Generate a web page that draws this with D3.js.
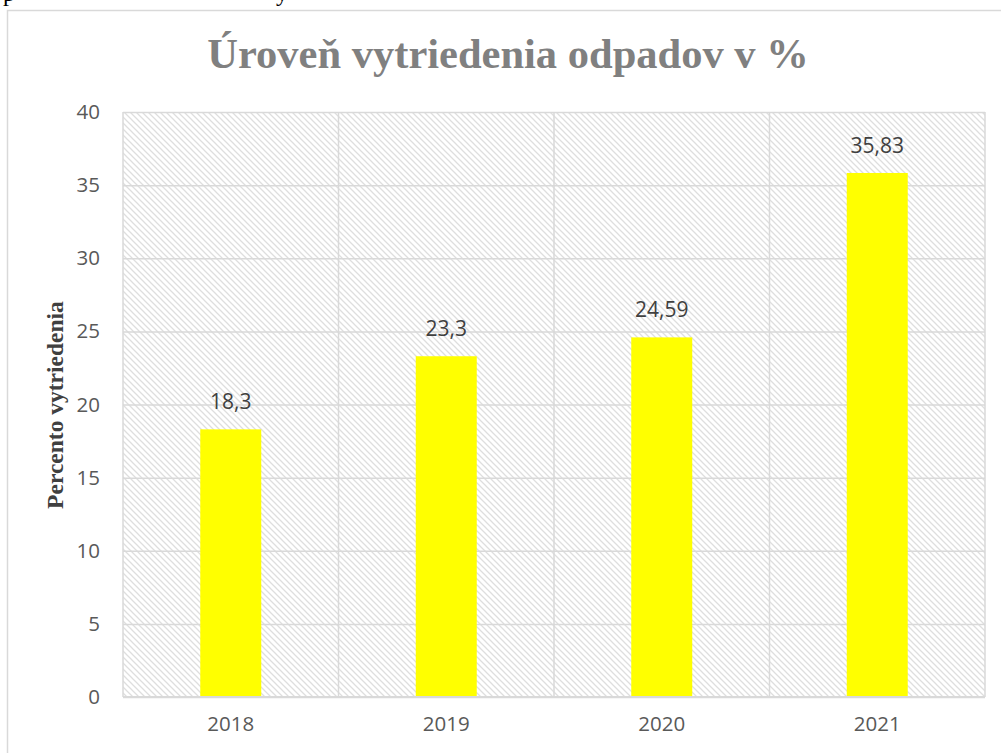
<!DOCTYPE html>
<html>
<head>
<meta charset="utf-8">
<script src="https://cdn.jsdelivr.net/npm/d3@7"></script>
<style>
  html, body { margin: 0; padding: 0; background: #fff; overflow: hidden; }
</style>
</head>
<body>
<div id="chart"></div>
<script>
// Data
const years  = ["2018", "2019", "2020", "2021"];
const values = [18.3, 23.3, 24.59, 35.83];
const labels = ["18,3", "23,3", "24,59", "35,83"];
const yTicks = [0, 5, 10, 15, 20, 25, 30, 35, 40];

const title  = "Úroveň vytriedenia odpadov v %";
const yTitle = "Percento vytriedenia";

// Page size and plot box
const width  = 1001;
const height = 753;
const plot = { left: 123, top: 112, right: 985, bottom: 697 };

const svg = d3.select("#chart")
  .append("svg")
    .attr("width", width)
    .attr("height", height);

// Hatch pattern for plot area
const defs = svg.append("defs");
defs.append("pattern")
    .attr("id", "hatch")
    .attr("patternUnits", "userSpaceOnUse")
    .attr("width", 6)
    .attr("height", 6)
  .append("path")
    .attr("d", "M0,0 L6,6 M-1,5 L1,7 M5,-1 L7,1")
    .attr("stroke", "#dedede")
    .attr("stroke-width", 1.3)
    .attr("fill", "none");

// Fragments of the document text above the chart (cut off by the crop)
const serif = "'Liberation Serif', 'Times New Roman', serif";
svg.append("text")
  .attr("x", 3).attr("y", 1)
  .style("font-family", serif)
  .style("font-size", "24px")
  .attr("fill", "#000")
  .text("p");
svg.append("text")
  .attr("x", 276).attr("y", 1)
  .style("font-family", serif)
  .style("font-size", "24px")
  .attr("fill", "#000")
  .text("y");

// Chart frame (extends beyond the window on right and bottom)
svg.append("rect")
  .attr("x", 7.5).attr("y", 10.5)
  .attr("width", 1040).attr("height", 800)
  .attr("fill", "#fff")
  .attr("stroke", "#d9d9d9")
  .attr("stroke-width", 1.5);

// Scales
const x = d3.scaleBand()
  .domain(years)
  .range([plot.left, plot.right])
  .padding(0);

const y = d3.scaleLinear()
  .domain([0, 40])
  .range([plot.bottom, plot.top]);

const barW = x.bandwidth() * 0.283;

// Plot area background
svg.append("rect")
  .attr("x", plot.left).attr("y", plot.top)
  .attr("width", plot.right - plot.left)
  .attr("height", plot.bottom - plot.top)
  .attr("fill", "url(#hatch)");

// Horizontal gridlines
svg.append("g")
  .attr("transform", `translate(${plot.left},0)`)
  .call(d3.axisLeft(y).tickValues(yTicks).tickSize(-(plot.right - plot.left)).tickFormat(""))
  .call(g => g.select(".domain").remove())
  .call(g => g.selectAll("line").attr("stroke", "#d9d9d9").attr("stroke-width", 1.5));

// Vertical gridlines at category boundaries
svg.append("g")
  .selectAll("line")
  .data(years.concat(["end"]))
  .join("line")
    .attr("x1", d => d === "end" ? plot.right : x(d))
    .attr("x2", d => d === "end" ? plot.right : x(d))
    .attr("y1", plot.top)
    .attr("y2", plot.bottom)
    .attr("stroke", "#d9d9d9")
    .attr("stroke-width", 1.5);

// Bars
svg.append("g")
  .selectAll("rect")
  .data(values)
  .join("rect")
    .attr("x", (d, i) => x(years[i]) + (x.bandwidth() - barW) / 2)
    .attr("y", d => y(d))
    .attr("width", barW)
    .attr("height", d => y(0) - y(d))
    .attr("fill", "#ffff00");

// Bottom axis line
svg.append("line")
  .attr("x1", plot.left).attr("x2", plot.right)
  .attr("y1", plot.bottom).attr("y2", plot.bottom)
  .attr("stroke", "#d9d9d9")
  .attr("stroke-width", 2);

const sans = "'Open Sans', 'Noto Sans', sans-serif";

// Data labels
svg.append("g")
  .selectAll("text")
  .data(values)
  .join("text")
    .attr("x", (d, i) => x(years[i]) + x.bandwidth() / 2)
    .attr("y", d => y(d) - 20)
    .attr("text-anchor", "middle")
    .style("font-family", sans)
    .style("font-size", "21px")
    .attr("fill", "#404040")
    .text((d, i) => labels[i]);

// Y tick labels
svg.append("g")
  .attr("transform", `translate(${plot.left},0)`)
  .call(d3.axisLeft(y).tickValues(yTicks).tickSize(0).tickPadding(23))
  .call(g => g.select(".domain").remove())
  .call(g => g.selectAll("text")
    .style("font-family", sans)
    .style("font-size", "20.5px")
    .attr("fill", "#595959"));

// X tick labels
svg.append("g")
  .attr("transform", `translate(0,${plot.bottom})`)
  .call(d3.axisBottom(x).tickSize(0).tickPadding(19))
  .call(g => g.select(".domain").remove())
  .call(g => g.selectAll("text")
    .style("font-family", sans)
    .style("font-size", "20.5px")
    .attr("fill", "#595959"));

// Title
svg.append("text")
  .attr("x", 508)
  .attr("y", 68)
  .attr("text-anchor", "middle")
  .style("font-family", serif)
  .style("font-weight", "bold")
  .style("font-size", "42.5px")
  .attr("fill", "#808080")
  .text(title);

// Y axis title
svg.append("text")
  .attr("transform", `translate(63,405) rotate(-90)`)
  .attr("text-anchor", "middle")
  .style("font-family", serif)
  .style("font-weight", "bold")
  .style("font-size", "23.5px")
  .attr("fill", "#404040")
  .text(yTitle);
</script>
</body>
</html>
